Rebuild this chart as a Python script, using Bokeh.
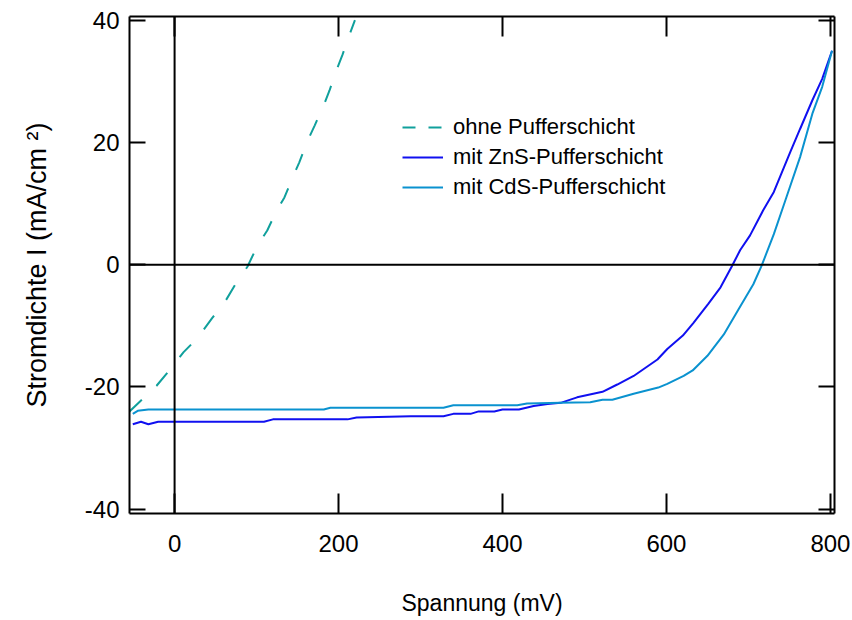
import numpy as np
from bokeh.plotting import figure
from bokeh.models import Range1d, LinearAxis, Span, Legend, LegendItem, FixedTicker
from bokeh.embed import file_html
from bokeh.resources import INLINE

# ---- data ----
ohne_v = [-55, -22, -7, 11, 28, 46, 60, 76, 89, 101, 113, 124, 134, 145, 152, 162, 171, 182, 189, 198, 205, 213, 220]
ohne_i = [-24.0, -19.8, -17.4, -14.3, -12.0, -8.7, -6.4, -2.8, -0.3, 3.1, 5.6, 8.7, 11.0, 14.6, 16.7, 20.2, 22.8,
          26.1, 28.5, 32.0, 34.4, 37.5, 40.0]

zns_v = [-51, -41, -32, -20, 109, 120, 211, 222, 288, 328, 340, 361, 371, 390, 400, 420, 438, 455, 471, 491, 522,
         540, 560, 589, 601, 620, 633, 651, 666, 680, 690, 702, 718, 731, 751, 763, 778, 790, 802]
zns_i = [-26.1, -25.7, -26.1, -25.7, -25.7, -25.3, -25.3, -25.0, -24.8, -24.8, -24.4, -24.4, -24.0, -24.0, -23.7,
         -23.7, -23.1, -22.8, -22.6, -21.7, -20.8, -19.6, -18.2, -15.5, -13.8, -11.6, -9.5, -6.4, -3.7, -0.2, 2.4,
         4.8, 8.9, 11.9, 18.4, 22.2, 26.9, 30.4, 35.0]

cds_v = [-51, -45, -32, 182, 190, 328, 340, 418, 430, 471, 507, 522, 534, 560, 590, 601, 621, 632, 650, 670, 688,
         706, 716, 731, 745, 763, 778, 790, 802]
cds_i = [-24.4, -23.9, -23.7, -23.7, -23.4, -23.4, -23.0, -23.0, -22.7, -22.6, -22.5, -22.1, -22.1, -21.1, -20.1,
         -19.5, -18.2, -17.3, -14.9, -11.4, -7.3, -3.2, -0.2, 5.0, 10.5, 17.6, 24.7, 29.1, 35.0]

x_ticks = [0, 200, 400, 600, 800]
y_ticks = [-40, -20, 0, 20, 40]
y_tick_labels = ["-40", "-20", "0", "20", "40"]
labels = ["ohne Pufferschicht", "mit ZnS-Pufferschicht", "mit CdS-Pufferschicht"]
colors = ["#10A09C", "#1010F0", "#0A92CF"]

FONT = "Liberation Sans"

p = figure(width=852, height=620, output_backend="svg", toolbar_location=None,
           x_range=Range1d(-55, 805), y_range=Range1d(-40.7, 40.6),
           min_border_left=129, min_border_right=18, min_border_top=16, min_border_bottom=107)
p.background_fill_color = "white"
p.border_fill_color = "white"
p.outline_line_color = None
p.grid.visible = False

# zero lines
p.add_layout(Span(location=0, dimension="width", line_color="black", line_width=2))
p.add_layout(Span(location=0, dimension="height", line_color="black", line_width=2))

r1 = p.line(ohne_v, ohne_i, line_color=colors[0], line_width=2, line_dash="17 20")
r2 = p.line(zns_v, zns_i, line_color=colors[1], line_width=2)
r3 = p.line(cds_v, cds_i, line_color=colors[2], line_width=2)
# legend-only sample for the dashed series (shorter dashes, as in the reference key);
# a single point draws nothing in the plot itself
r1_key = p.line(ohne_v[:1], ohne_i[:1], line_color=colors[0], line_width=2, line_dash="13 13")


def style_axis(ax, ticks, tick_len, show_labels):
    ax.axis_line_width = 2
    ax.axis_line_color = "black"
    if show_labels:
        ax.ticker = FixedTicker(ticks=ticks)
        ax.major_tick_line_width = 2
        ax.major_tick_line_color = "black"
        ax.major_tick_in = tick_len
        ax.major_tick_out = 0
        ax.minor_tick_line_color = None
        ax.major_label_text_font = FONT
        ax.major_label_text_font_size = "24px"
        ax.major_label_text_color = "black"
    else:
        # ticks only, no labels: use minor ticks at the tick positions
        ax.ticker = FixedTicker(ticks=[], minor_ticks=ticks)
        ax.minor_tick_line_width = 2
        ax.minor_tick_line_color = "black"
        ax.minor_tick_in = tick_len
        ax.minor_tick_out = 0
        ax.major_tick_line_color = None
        ax.major_label_standoff = 0


xa = p.xaxis[0]
ya = p.yaxis[0]
style_axis(xa, x_ticks, 20, True)
style_axis(ya, y_ticks, 16, True)
ya.major_label_overrides = {t: s for t, s in zip(y_ticks, y_tick_labels)}
xa.major_label_standoff = 21
ya.major_label_standoff = 10

xa.axis_label = "Spannung (mV)"
xa.axis_label_text_font = FONT
xa.axis_label_text_font_size = "23px"
xa.axis_label_text_font_style = "normal"
xa.axis_label_text_color = "black"
xa.axis_label_standoff = 35

ya.axis_label = "Stromdichte I (mA/cm \u00b2)"
ya.axis_label_text_font = FONT
ya.axis_label_text_font_size = "27px"
ya.axis_label_text_font_style = "normal"
ya.axis_label_text_color = "black"
ya.axis_label_standoff = 30

top = LinearAxis()
right = LinearAxis()
style_axis(top, x_ticks, 20, False)
style_axis(right, y_ticks, 16, False)
p.add_layout(top, "above")
p.add_layout(right, "right")

legend = Legend(items=[LegendItem(label=labels[0], renderers=[r1_key]),
                       LegendItem(label=labels[1], renderers=[r2]),
                       LegendItem(label=labels[2], renderers=[r3])],
                location=(273, 311))
legend.border_line_color = None
legend.background_fill_alpha = 0
legend.padding = 0
legend.margin = 0
legend.spacing = 0
legend.glyph_width = 41
legend.glyph_height = 30
legend.label_height = 30
legend.label_standoff = 10
legend.label_text_font = FONT
legend.label_text_font_size = "22px"
legend.label_text_color = "black"
p.add_layout(legend, "center")

open("out.html", "w").write(file_html(p, INLINE))
